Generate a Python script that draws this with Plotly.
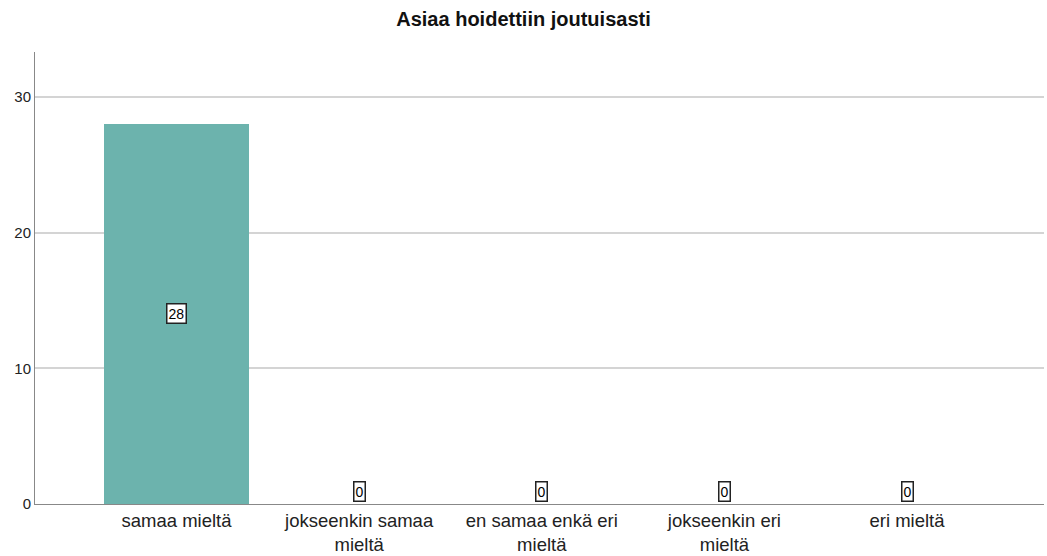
import plotly.graph_objects as go

# Response categories and counts
categories = ["samaa mieltä", "jokseenkin samaa<br>mieltä", "en samaa enkä eri<br>mieltä",
              "jokseenkin eri<br>mieltä", "eri mieltä"]
counts = [28, 0, 0, 0, 0]
y_ticks = [0, 10, 20, 30]

fig = go.Figure()
fig.add_trace(go.Bar(
    x=list(range(len(categories))),
    y=counts,
    width=0.79,
    marker=dict(color="#6cb3ad", line=dict(width=0)),
    hoverinfo="skip",
))

# Boxed value labels, centred in each bar (zero counts sit just above the baseline)
for i, v in enumerate(counts):
    if v > 0:
        fig.add_annotation(x=i, y=v / 2, text=str(v), showarrow=False, yanchor="middle")
    else:
        fig.add_annotation(x=i, y=0, text=str(v), showarrow=False, yanchor="bottom", yshift=2)
fig.update_annotations(font=dict(family="Liberation Sans, Arial", size=14, color="#000"),
                       bgcolor="white", bordercolor="#222", borderwidth=1.5, borderpad=1)

fig.update_layout(
    width=1047, height=556,
    margin=dict(l=35, r=3, t=52, b=52, autoexpand=False),
    paper_bgcolor="white", plot_bgcolor="white",
    showlegend=False,
    title=dict(text="<b>Asiaa hoidettiin joutuisasti</b>", x=0.5, xanchor="center",
               y=0.965, yanchor="middle",
               font=dict(family="Liberation Sans, Arial", size=20, color="#111")),
    font=dict(family="Liberation Sans, Arial", color="#222"),
    xaxis=dict(
        range=[-0.775, 4.75], automargin=False,
        tickmode="array", tickvals=list(range(len(categories))), ticktext=categories,
        tickfont=dict(size=18.5, color="#222"),
        showgrid=False, zeroline=False,
        showline=True, linecolor="#888", linewidth=1,
        ticks="", fixedrange=True,
    ),
    yaxis=dict(
        range=[0, 33.3], automargin=False,
        tickmode="array", tickvals=y_ticks, ticktext=[str(t) for t in y_ticks],
        tickfont=dict(size=15, color="#222"),
        showgrid=True, gridcolor="#d4d4d4", gridwidth=1.5,
        zeroline=False, showline=True, linecolor="#888", linewidth=1,
        ticks="", ticklen=0, fixedrange=True,
    ),
    bargap=0,
)

fig.write_html("out.html")
